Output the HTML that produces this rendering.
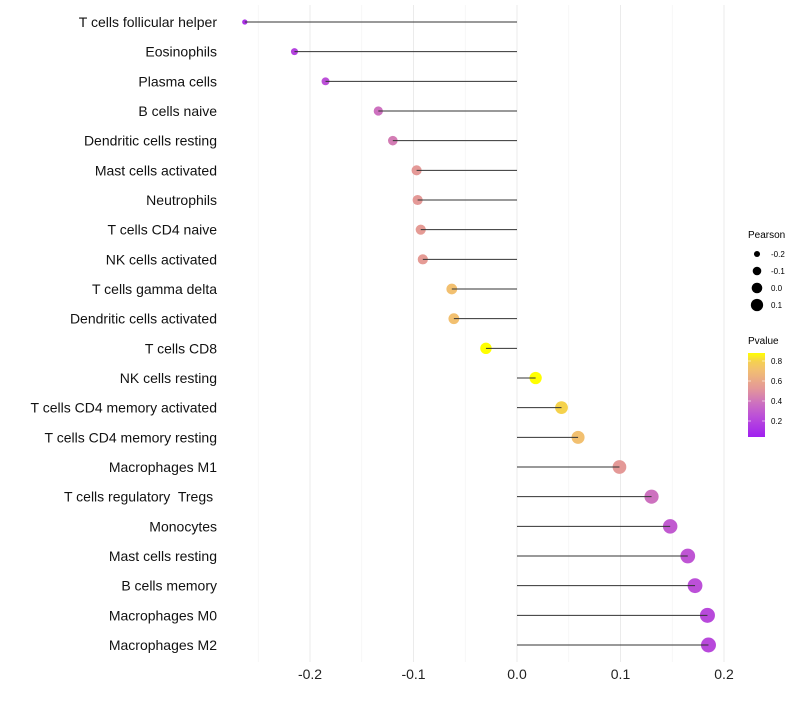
<!DOCTYPE html>
<html><head><meta charset="utf-8"><style>
body{margin:0;background:#fff;font-family:"Liberation Sans",sans-serif}
svg text{font-family:"Liberation Sans",sans-serif;white-space:pre}
</style></head><body>
<svg id="c" width="800" height="700">
<defs><linearGradient id="pg" x1="0" y1="1" x2="0" y2="0">
<stop offset="0" stop-color="#a020f0"/><stop offset="0.25" stop-color="#bc50d8"/><stop offset="0.4" stop-color="#cc70c0"/><stop offset="0.58" stop-color="#e49898"/><stop offset="0.8" stop-color="#f2c070"/><stop offset="0.9" stop-color="#f5d050"/><stop offset="1" stop-color="#ffff00"/></linearGradient></defs>
<g id="grid"></g><g id="dots"></g><g id="marks"></g><g id="labels"></g>
<g>
<text x="748" y="238" font-size="10">Pearson</text>
<g id="sizeleg"></g>
<text x="748" y="344" font-size="10">Pvalue</text>
<rect x="748" y="353" width="17" height="84" fill="url(#pg)"/>
<g id="colleg"></g>
</g>
</svg>
<script>
const categories=["T cells follicular helper","Eosinophils","Plasma cells","B cells naive","Dendritic cells resting","Mast cells activated","Neutrophils","T cells CD4 naive","NK cells activated","T cells gamma delta","Dendritic cells activated","T cells CD8","NK cells resting","T cells CD4 memory activated","T cells CD4 memory resting","Macrophages M1","T cells regulatory  Tregs ","Monocytes","Mast cells resting","B cells memory","Macrophages M0","Macrophages M2"];
const pearson=[-0.263,-0.215,-0.185,-0.134,-0.120,-0.097,-0.096,-0.093,-0.091,-0.063,-0.061,-0.030,0.018,0.043,0.059,0.099,0.130,0.148,0.165,0.172,0.184,0.185];
const pvalue=[0.12,0.19,0.25,0.38,0.42,0.53,0.53,0.54,0.54,0.71,0.71,0.88,0.88,0.80,0.71,0.53,0.38,0.29,0.27,0.25,0.22,0.22];
const xTicks=[-0.2,-0.1,0.0,0.1,0.2];
const xTickLabels=["-0.2","-0.1","0.0","0.1","0.2"];
const sizeLegVals=[-0.2,-0.1,0.0,0.1];
const colLegVals=[0.2,0.4,0.6,0.8];
const NS="http://www.w3.org/2000/svg";
const x=v=>517+v*1035;
const y=i=>22+i*(623/21);
const rad=v=>Math.sqrt(Math.max(3,36+110*v));
const pmin=0.04,pmax=0.88;
const stops=[[0,[160,32,240]],[0.25,[188,80,216]],[0.4,[204,112,192]],[0.58,[228,152,152]],[0.8,[242,192,112]],[0.9,[245,208,80]],[1,[255,255,0]]];
function col(p){let t=Math.min(1,Math.max(0,(p-pmin)/(pmax-pmin)));for(let k=1;k<stops.length;k++){if(t<=stops[k][0]){const a=stops[k-1],b=stops[k];const f=(t-a[0])/(b[0]-a[0]);return "rgb("+a[1].map((c,j)=>Math.round(c+(b[1][j]-c)*f)).join(",")+")";}}return "rgb(255,255,0)";}
function mk(tag,attrs,parent){const e=document.createElementNS(NS,tag);for(const k in attrs)e.setAttribute(k,attrs[k]);parent.appendChild(e);return e;}
const grid=document.getElementById('grid'),marks=document.getElementById('marks'),dots=document.getElementById('dots'),labels=document.getElementById('labels');
[-0.25,-0.15,-0.05,0.05,0.15].forEach(v=>{const l=mk('line',{x1:x(v),x2:x(v),y1:5,y2:662,stroke:'#f4f4f4','stroke-width':0.8},grid);});
xTicks.forEach((v,i)=>{const l=mk('line',{x1:x(v),x2:x(v),y1:5,y2:662,stroke:'#ebebeb','stroke-width':1},grid);
const t=mk('text',{x:x(v),y:679,'font-size':14,'text-anchor':'middle',fill:'#222'},labels);t.textContent=xTickLabels[i];});
categories.forEach((c,i)=>{const yy=y(i);
const t=mk('text',{x:217,y:yy+5,'font-size':14,'text-anchor':'end',fill:'#111','xml:space':'preserve'},labels);t.textContent=c;
const d=mk('circle',{cx:x(pearson[i]),cy:yy,r:rad(pearson[i]),fill:col(pvalue[i])},dots);
const l=mk('line',{x1:x(0),x2:x(pearson[i]),y1:yy,y2:yy,stroke:'#333','stroke-width':1},marks);});
const sl=document.getElementById('sizeleg');
sizeLegVals.forEach((v,i)=>{const yy=254+i*17;const d=mk('circle',{cx:757,cy:yy,r:rad(v)-0.7,fill:'#000'},sl);
const t=mk('text',{x:771,y:yy+3,'font-size':8},sl);t.textContent=v.toFixed(1).replace('-0.0','0.0');});
const cl=document.getElementById('colleg');
colLegVals.forEach(v=>{const yy=437-(v-pmin)/(pmax-pmin)*84;const t=mk('text',{x:771,y:yy+3,'font-size':8},cl);t.textContent=v.toFixed(1);
const a=mk('line',{x1:748,x2:751,y1:yy,y2:yy,stroke:'#fff','stroke-width':0.6},cl);
const b=mk('line',{x1:762,x2:765,y1:yy,y2:yy,stroke:'#fff','stroke-width':0.6},cl);});
</script>
</body></html>
